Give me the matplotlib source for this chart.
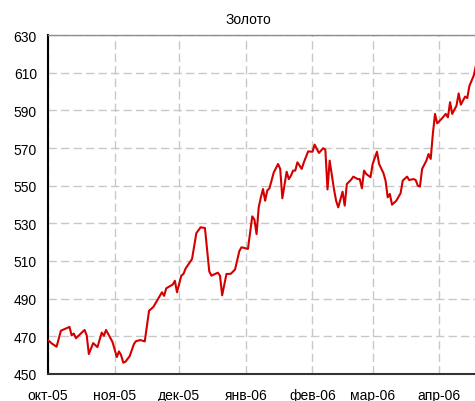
import datetime as dt
import matplotlib
matplotlib.use('Agg')
import matplotlib.pyplot as plt
import matplotlib.dates as mdates

plt.rcParams['font.family'] = ['Liberation Sans', 'DejaVu Sans']
plt.rcParams['font.size'] = 10

# цены на золото
dates = [
    '2005-10-01', '2005-10-03', '2005-10-05', '2005-10-07', '2005-10-11', '2005-10-12',
    '2005-10-13', '2005-10-14', '2005-10-18', '2005-10-19', '2005-10-20', '2005-10-22',
    '2005-10-24', '2005-10-26', '2005-10-27', '2005-10-28', '2005-10-31', '2005-11-01',
    '2005-11-02', '2005-11-03', '2005-11-04', '2005-11-05', '2005-11-06', '2005-11-08',
    '2005-11-10', '2005-11-11', '2005-11-13', '2005-11-15', '2005-11-17', '2005-11-19',
    '2005-11-21', '2005-11-23', '2005-11-24', '2005-11-25', '2005-11-28', '2005-11-29',
    '2005-11-30', '2005-12-02', '2005-12-03', '2005-12-04', '2005-12-07', '2005-12-09',
    '2005-12-11', '2005-12-13', '2005-12-15', '2005-12-16', '2005-12-19', '2005-12-20',
    '2005-12-21', '2005-12-23', '2005-12-25', '2005-12-27', '2005-12-29', '2005-12-30',
    '2006-01-02', '2006-01-04', '2006-01-05', '2006-01-06', '2006-01-07', '2006-01-08',
    '2006-01-09', '2006-01-10', '2006-01-11', '2006-01-12', '2006-01-14', '2006-01-15',
    '2006-01-16', '2006-01-17', '2006-01-18', '2006-01-20', '2006-01-21', '2006-01-22',
    '2006-01-23', '2006-01-24', '2006-01-25', '2006-01-27', '2006-01-28', '2006-01-30',
    '2006-02-01', '2006-02-02', '2006-02-04', '2006-02-06', '2006-02-07', '2006-02-08',
    '2006-02-09', '2006-02-11', '2006-02-12', '2006-02-13', '2006-02-15', '2006-02-16',
    '2006-02-17', '2006-02-19', '2006-02-20', '2006-02-22', '2006-02-23', '2006-02-24',
    '2006-02-25', '2006-02-26', '2006-02-28', '2006-03-01', '2006-03-03', '2006-03-04',
    '2006-03-06', '2006-03-07', '2006-03-08', '2006-03-09', '2006-03-10', '2006-03-12',
    '2006-03-14', '2006-03-15', '2006-03-17', '2006-03-18', '2006-03-20', '2006-03-21',
    '2006-03-22', '2006-03-23', '2006-03-24', '2006-03-26', '2006-03-27', '2006-03-28',
    '2006-03-29', '2006-03-30', '2006-03-31', '2006-04-02', '2006-04-04', '2006-04-05',
    '2006-04-06', '2006-04-07', '2006-04-09', '2006-04-10', '2006-04-11', '2006-04-13',
    '2006-04-14', '2006-04-15', '2006-04-17', '2006-04-18',
]
gold = [
    468, 466, 464.5, 473, 475, 470.5,
    471.5, 469, 473.4, 470.5, 460.6, 466.4,
    464.3, 472, 470.3, 473.4, 467, 463,
    459, 462, 460, 456, 456.5, 459.5,
    466, 467.5, 468, 467.3, 483.6, 485.6,
    489.5, 493.4, 491.5, 495.5, 497.5, 499.5,
    493.4, 502.2, 503.1, 506, 511.1, 524.8,
    527.9, 527.5, 504.5, 502.2, 503.8, 502.2,
    491.8, 503.1, 503.2, 505.5, 515.3, 517.3,
    516.4, 533.7, 532, 524.3, 538.5, 543.8,
    548.2, 542, 547.5, 548.6, 557, 559.2,
    561.5, 558.9, 543.3, 557.4, 553.5, 555.3,
    558, 558, 562.4, 558.9, 562.4, 568.2,
    568, 571.8, 567.4, 569.9, 569.1, 548,
    563.3, 548.2, 542, 538.5, 546.8, 539.4,
    550.9, 553.2, 554.8, 553.5, 553.5, 548.6,
    558, 556.2, 554.5, 561.5, 568, 561.5,
    556.7, 552.7, 543.8, 545.6, 539.9, 542,
    546, 552.7, 554.8, 553, 553.5, 553,
    550, 549.5, 558.9, 563.3, 566.8, 564.2,
    577.5, 588.1, 583.1, 585.4, 588.1, 586.3,
    594.3, 588.1, 592.5, 599, 593, 597.3,
    596.5, 603, 608.4, 613.7,
]

month_starts = ['2005-10-01', '2005-11-01', '2005-12-01', '2006-01-01',
                '2006-02-01', '2006-03-01', '2006-04-01']
month_labels = ['окт-05', 'ноя-05', 'дек-05', 'янв-06', 'фев-06', 'мар-06', 'апр-06']
y_ticks = list(range(450, 631, 20))

x = [dt.datetime.strptime(d, '%Y-%m-%d') for d in dates]
xt = [dt.datetime.strptime(d, '%Y-%m-%d') for d in month_starts]

fig = plt.figure(figsize=(4.75, 4.02), dpi=100)
ax = fig.add_axes([48 / 475, 1 - 375 / 402, 1 - 48 / 475, (375 - 36) / 402])

ax.plot(x, gold, color='#d40000', lw=1.5, zorder=3)

start = mdates.date2num(dt.datetime(2005, 10, 1))
ax.set_xlim(start, start + 198.6)
ax.set_ylim(450, 630)
ax.set_xticks(xt)
ax.set_xticklabels(month_labels)
ax.set_yticks(y_ticks)

ax.grid(True, color='#c8c8c8', lw=1, linestyle=(0, (6, 3)))
ax.tick_params(length=0)
ax.tick_params(axis='y', pad=8)
ax.tick_params(axis='x', pad=10)

ax.spines['right'].set_visible(False)
ax.spines['top'].set_color('#8c8c8c')
ax.spines['top'].set_linewidth(1)
ax.spines['left'].set_linewidth(1.5)
ax.spines['bottom'].set_linewidth(1.5)
ax.spines['bottom'].set_color('#333333')

fig.text(248.7 / 475, 1 - 20 / 402, 'Золото', ha='center', va='center', fontsize=10)

fig.savefig('out.png', dpi=100)
